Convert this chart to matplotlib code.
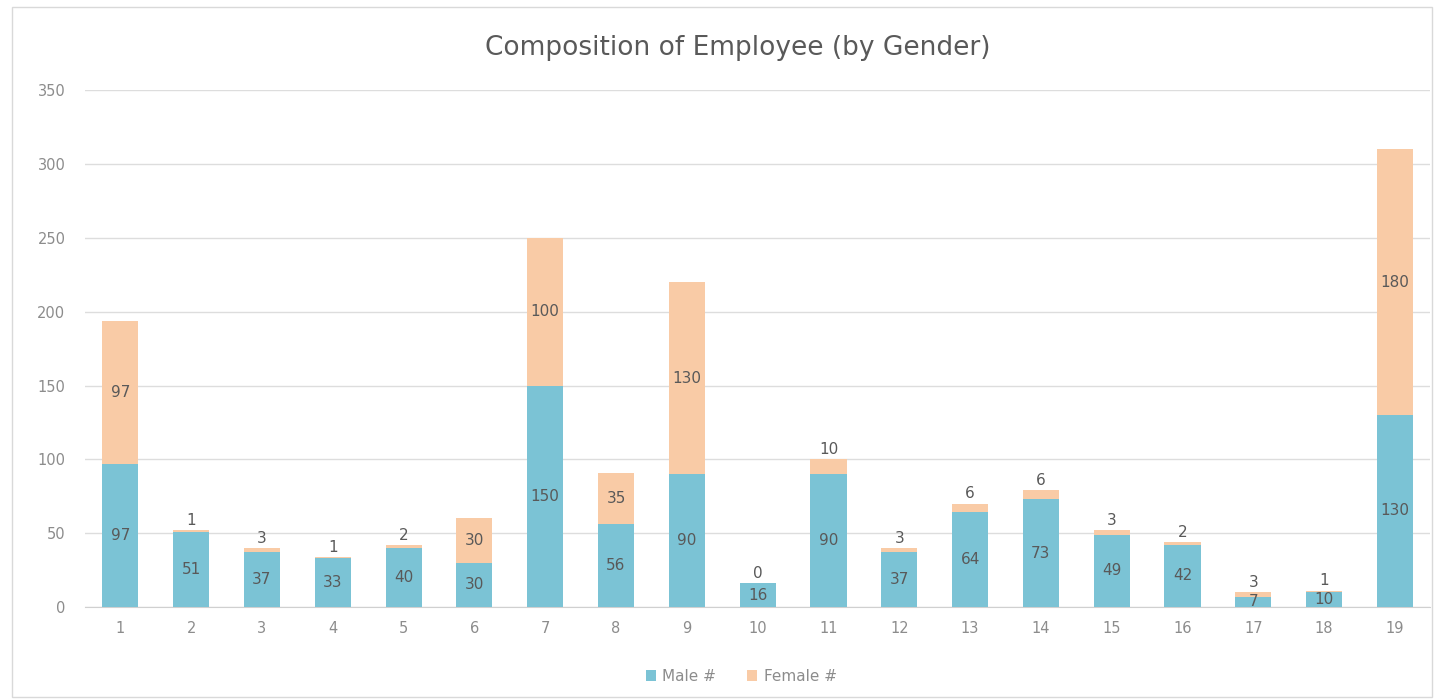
import matplotlib
matplotlib.use("Agg")
import matplotlib.pyplot as plt
import numpy as np

categories = [str(i) for i in range(1, 20)]
male = [97, 51, 37, 33, 40, 30, 150, 56, 90, 16, 90, 37, 64, 73, 49, 42, 7, 10, 130]
female = [97, 1, 3, 1, 2, 30, 100, 35, 130, 0, 10, 3, 6, 6, 3, 2, 3, 1, 180]

male_color = "#7BC3D5"
female_color = "#F9CBA6"
text_color = "#595959"

fig = plt.figure(figsize=(14.39, 7.0), dpi=100)
fig.patches.append(plt.Rectangle((0.008, 0.005), 0.987, 0.985, transform=fig.transFigure,
                                 fill=False, edgecolor="#D9D9D9", linewidth=1.0))
ax = fig.add_axes([0.059, 0.133, 0.935, 0.738])

x = np.arange(len(categories))
w = 0.51
ax.bar(x, male, w, color=male_color, label="Male #", zorder=3)
ax.bar(x, female, w, bottom=male, color=female_color, label="Female #", zorder=3)

for xi, m, f in zip(x, male, female):
    ax.text(xi, m / 2, str(m), ha="center", va="center", fontsize=11, color=text_color, zorder=4)
    if f >= 15:
        ax.text(xi, m + f / 2, str(f), ha="center", va="center", fontsize=11, color=text_color, zorder=4)
    else:
        ax.text(xi, m + f + 1.5, str(f), ha="center", va="bottom", fontsize=11, color=text_color, zorder=4)

ax.set_xlim(-0.5, len(categories) - 0.5)
ax.set_ylim(0, 350)
ax.set_yticks(np.arange(0, 351, 50))
ax.set_xticks(x)
ax.set_xticklabels(categories)
ax.tick_params(axis="both", length=0, labelsize=10.5, labelcolor="#8C8C8C")
ax.tick_params(axis="x", pad=10)
ax.tick_params(axis="y", pad=14)
ax.grid(axis="y", color="#DDDDDD", linewidth=1.0, zorder=0)
for s in ["top", "right", "left"]:
    ax.spines[s].set_visible(False)
ax.spines["bottom"].set_color("#D0D0D0")

fig.text(0.513, 0.932, "Composition of Employee (by Gender)", ha="center", va="center",
         fontsize=19, color=text_color)

fig.legend(loc="center", bbox_to_anchor=(0.515, 0.034), ncol=2, frameon=False,
           fontsize=11, labelcolor="#8C8C8C", handlelength=0.7, handleheight=0.7,
           columnspacing=2.0, handletextpad=0.4)

fig.savefig("out.png", dpi=100, facecolor="white")
